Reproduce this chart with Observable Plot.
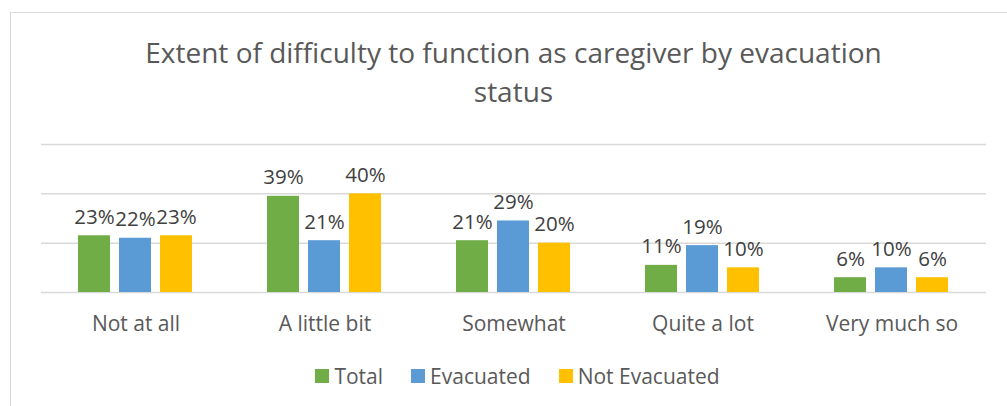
<!DOCTYPE html>
<html><head><meta charset="utf-8">
<script src="https://cdn.jsdelivr.net/npm/d3@7"></script>
<script src="https://cdn.jsdelivr.net/npm/@observablehq/plot@0.6"></script>
<style>
body{margin:0;background:#fff;font-family:"Open Sans",sans-serif;}
#wrap{position:relative;width:1007px;height:406px;overflow:hidden;background:#fff;}
#border{position:absolute;left:10px;top:12px;width:1010px;height:400px;border-left:1.5px solid #d9d9d9;border-top:1.5px solid #d9d9d9;}
#title{position:absolute;left:40px;width:947px;top:33px;text-align:center;font-size:28px;line-height:39px;color:#595959;}
#chart{position:absolute;left:0;top:130px;}
#legend{position:absolute;left:44px;width:947px;top:364px;display:flex;justify-content:center;gap:28px;font-size:21px;line-height:24px;color:#595959;}
.item{display:flex;align-items:center;}
.sw{width:14px;height:14px;margin-right:5px;}
</style></head>
<body>
<div id="wrap">
  <div id="border"></div>
  <div id="title">Extent of difficulty to function as caregiver by evacuation<br>status</div>
  <div id="chart"></div>
  <div id="legend"></div>
</div>
<script>
const categories = ["Not at all", "A little bit", "Somewhat", "Quite a lot", "Very much so"];
const series = ["Total", "Evacuated", "Not Evacuated"];
const total = [23, 39, 21, 11, 6];
const evacuated = [22, 21, 29, 19, 10];
const notEvacuated = [23, 40, 20, 10, 6];
const colors = ["#70AD47", "#5B9BD5", "#FFC000"];
const gridTicks = [0, 0.2, 0.4, 0.6];

const seriesValues = [total, evacuated, notEvacuated];
const rows = [];
categories.forEach((c, i) => {
  series.forEach((s, j) => {
    rows.push({category: c, series: s, value: seriesValues[j][i] / 100});
  });
});

const chart = Plot.plot({
  width: 1007,
  height: 215,
  marginLeft: 40,
  marginRight: 20,
  marginTop: 14,
  marginBottom: 53,
  fx: {domain: categories, padding: 0, label: null, axis: null},
  x: {domain: series, axis: null, paddingInner: 0.214, paddingOuter: 0.862},
  y: {domain: [0, 0.6], axis: null},
  color: {domain: series, range: colors},
  style: {fontFamily: "Open Sans", fontSize: "20px", color: "#595959", background: "transparent", overflow: "visible"},
  marks: [
    Plot.ruleY(gridTicks, {stroke: "#d9d9d9", strokeWidth: 1.5}),
    Plot.barY(rows, {fx: "category", x: "series", y: "value", fill: "series"}),
    Plot.text(rows, {fx: "category", x: "series", y: "value", text: d => Math.round(d.value * 100) + "%", lineAnchor: "bottom", dy: -12, fill: "#404040", fontSize: 20.5}),
    Plot.axisFx({anchor: "bottom", tickSize: 0, tickPadding: 24, fontSize: 21, fill: "#595959", label: null})
  ]
});
document.getElementById("chart").appendChild(chart);

const legend = document.getElementById("legend");
series.forEach((s, j) => {
  const item = document.createElement("div");
  item.className = "item";
  const sw = document.createElement("div");
  sw.className = "sw";
  sw.style.background = colors[j];
  const label = document.createElement("span");
  label.textContent = s;
  item.appendChild(sw);
  item.appendChild(label);
  legend.appendChild(item);
});
</script>
</body></html>
